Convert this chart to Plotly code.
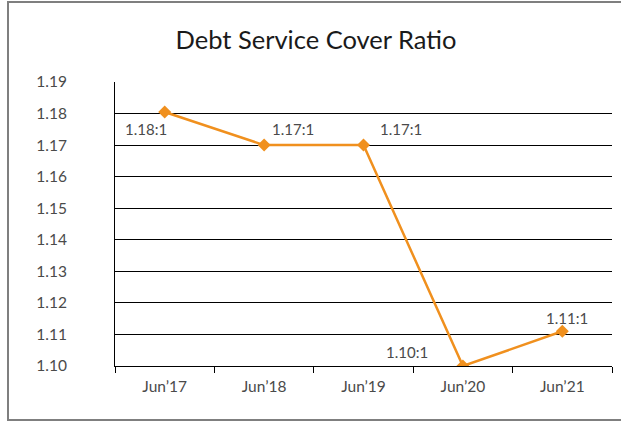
import plotly.graph_objects as go

categories = ["Jun\u201917", "Jun\u201918", "Jun\u201919", "Jun\u201920", "Jun\u201921"]
values = [1.1805, 1.17, 1.17, 1.10, 1.111]
labels = ["1.18:1", "1.17:1", "1.17:1", "1.10:1", "1.11:1"]
label_shifts = [(-19, -17), (29, 16), (37, 16), (-56, 14), (5, 13)]
y_ticks = [1.10, 1.11, 1.12, 1.13, 1.14, 1.15, 1.16, 1.17, 1.18, 1.19]

orange = "#F0901E"
text_col = "#4a4a4a"
font_family = "Lato, 'Open Sans', sans-serif"

fig = go.Figure()
fig.add_trace(go.Scatter(
    x=categories, y=values, mode="lines+markers",
    line=dict(color=orange, width=2.5),
    marker=dict(symbol="diamond", size=10, color=orange),
    hoverinfo="skip", showlegend=False,
))

for c, v, t, (dx, dy) in zip(categories, values, labels, label_shifts):
    fig.add_annotation(x=c, y=v, text=t, xref="x", yref="y", showarrow=False,
                       xshift=dx, yshift=dy,
                       font=dict(family=font_family, size=15, color=text_col))

W, H = 621, 424
L, R, T, B = 115, 9, 82, 58
pw, ph = W - L - R, H - T - B

def px_to_paper_x(px):
    return (px - L) / pw

def px_to_paper_y(py):
    return (H - B - py) / ph

fig.add_shape(type="rect", xref="paper", yref="paper",
              x0=px_to_paper_x(8), x1=px_to_paper_x(623),
              y0=px_to_paper_y(420), y1=px_to_paper_y(2),
              line=dict(color="#7f7f7f", width=2), fillcolor="rgba(0,0,0,0)", layer="below")

fig.update_layout(
    width=W, height=H,
    margin=dict(l=L, r=R, t=T, b=B),
    paper_bgcolor="white", plot_bgcolor="white",
    title=dict(text="Debt Service Cover Ratio", x=316 / W, xref="container", xanchor="center",
               y=1 - 40 / H, yref="container", yanchor="middle",
               font=dict(family=font_family, size=25.5, color="#1a1a1a")),
    font=dict(family=font_family, size=15, color=text_col),
)
fig.update_xaxes(
    type="category", range=[-0.5, 4.5],
    showgrid=False, showline=True, linecolor="black", linewidth=1,
    ticks="outside", tickson="boundaries", ticklen=6, tickcolor="black",
    ticklabelstandoff=6,
    tickfont=dict(family=font_family, size=15.5, color=text_col),
)
fig.update_yaxes(
    range=[1.10, 1.19], tickvals=y_ticks, tickformat=".2f",
    showgrid=True, gridcolor="black", gridwidth=1,
    showline=True, linecolor="black", linewidth=1,
    zeroline=False, ticks="", ticklabelstandoff=44,
    tickfont=dict(family=font_family, size=15.5, color=text_col),
)

fig.write_html("out.html", config={"displayModeBar": False},
               post_script="document.body.style.margin='0px';")
